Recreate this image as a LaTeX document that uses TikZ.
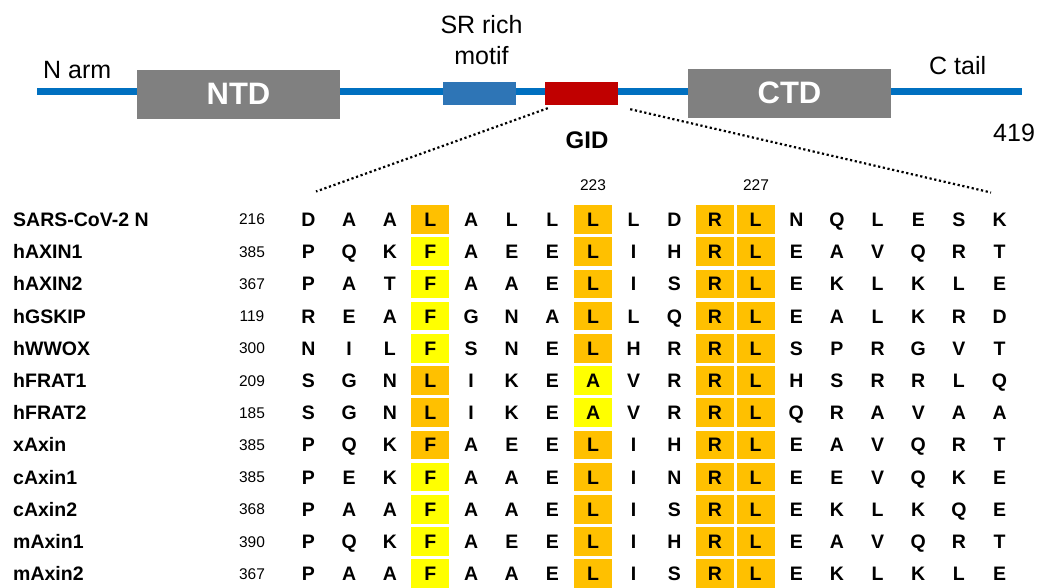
\documentclass[tikz,border=0pt]{standalone}
\usepackage{fontspec}
\setmainfont{Liberation Sans}
\definecolor{backbone}{HTML}{0070C0}
\definecolor{srblue}{HTML}{2E75B6}
\definecolor{gidred}{HTML}{C00000}
\definecolor{domgray}{HTML}{808080}
\definecolor{hlo}{HTML}{FFC000}
\definecolor{hly}{HTML}{FFFF00}
\tikzset{
  backboneline/.style={draw=backbone, line width=6.5pt},
  dombox/.style={fill=domgray, draw=none, minimum width=203pt, minimum height=48.5pt,
    inner sep=0pt, text=white, font=\bfseries\fontsize{31}{31}\selectfont},
  motifbox/.style={draw=none, minimum width=73pt, minimum height=23pt, inner sep=0pt},
  toplbl/.style={font=\fontsize{25}{25}\selectfont, inner sep=0pt},
  zoomline/.style={draw=black, line width=2.2pt, dash pattern=on 2.2pt off 2.6pt},
  namelbl/.style={font=\bfseries\fontsize{19.5}{20}\selectfont, anchor=west, inner sep=0pt,
    text height=14pt, text depth=0pt},
  numlbl/.style={font=\fontsize{15.5}{16}\selectfont, inner sep=0pt,
    text height=11pt, text depth=0pt},
  res/.style={font=\bfseries\fontsize{19.5}{20}\selectfont, minimum width=38pt,
    minimum height=28.5pt, inner sep=0pt, text height=14pt, text depth=0pt},
}
\begin{document}
\begin{tikzpicture}[x=1pt, y=-1pt]
\useasboundingbox (0,0) rectangle (1037,588);

% protein backbone with domains
\coordinate (armstart) at (37,91.5);
\coordinate (tailend) at (1022,91.5);
\draw[backboneline] (armstart) -- (tailend);
\node[dombox] (ntd) at (238.5,94.3) {NTD};
\node[dombox] (ctd) at (789.5,93.3) {CTD};
\node[motifbox, fill=srblue] (sr) at (479.5,93.5) {};
\node[motifbox, fill=gidred] (gid) at (581.5,93.5) {};

% region labels
\node[toplbl, anchor=base west] (narm) at (43,79) {N arm};
\node[toplbl, anchor=base] (srtxt1) at (481.5,33.3) {SR rich};
\node[toplbl, anchor=base] (srtxt2) at (481.5,65) {motif};
\node[toplbl, anchor=base west] (ctail) at (929,75) {C tail};
\node[toplbl, anchor=base west] (len) at (993,141.7) {419};
\node[font=\bfseries\fontsize{24}{24}\selectfont, anchor=base, inner sep=0pt] (gidtxt) at (587,149) {GID};

% zoom-in lines from the GID box to the alignment
\coordinate (zl) at (316,191.5);
\coordinate (zr) at (991,192.5);
\draw[zoomline] ([xshift=3pt,yshift=-3pt]gid.south west) -- (zl);
\draw[zoomline] ([xshift=12pt,yshift=-4pt]gid.south east) -- (zr);

% residue numbers above the alignment
\node[numlbl, anchor=base] (p223) at (593,190.7) {223};
\node[numlbl, anchor=base] (p227) at (756,190.7) {227};

% sequence alignment: name / start / residues / colour at col 4 / colour at col 8
\foreach \nm/\num/\seq/\ca/\cb [count=\r from 0] in {
  {SARS-CoV-2 N}/216/{D,A,A,L,A,L,L,L,L,D,R,L,N,Q,L,E,S,K}/hlo/hlo,
  hAXIN1/385/{P,Q,K,F,A,E,E,L,I,H,R,L,E,A,V,Q,R,T}/hly/hlo,
  hAXIN2/367/{P,A,T,F,A,A,E,L,I,S,R,L,E,K,L,K,L,E}/hly/hlo,
  hGSKIP/119/{R,E,A,F,G,N,A,L,L,Q,R,L,E,A,L,K,R,D}/hly/hlo,
  hWWOX/300/{N,I,L,F,S,N,E,L,H,R,R,L,S,P,R,G,V,T}/hly/hlo,
  hFRAT1/209/{S,G,N,L,I,K,E,A,V,R,R,L,H,S,R,R,L,Q}/hlo/hly,
  hFRAT2/185/{S,G,N,L,I,K,E,A,V,R,R,L,Q,R,A,V,A,A}/hlo/hly,
  xAxin/385/{P,Q,K,F,A,E,E,L,I,H,R,L,E,A,V,Q,R,T}/hlo/hlo,
  cAxin1/385/{P,E,K,F,A,A,E,L,I,N,R,L,E,E,V,Q,K,E}/hly/hlo,
  cAxin2/368/{P,A,A,F,A,A,E,L,I,S,R,L,E,K,L,K,Q,E}/hly/hlo,
  mAxin1/390/{P,Q,K,F,A,E,E,L,I,H,R,L,E,A,V,Q,R,T}/hly/hlo,
  mAxin2/367/{P,A,A,F,A,A,E,L,I,S,R,L,E,K,L,K,L,E}/hly/hlo}
{
  \pgfmathsetmacro{\yy}{219.5+32.2*\r}
  \node[namelbl] (name-\r) at (13,\yy) {\nm};
  \node[numlbl] (num-\r) at (252,\yy) {\num};
  \foreach \aa [count=\c from 0] in \seq {
    \def\fc{none}
    \ifnum\c=3 \let\fc\ca\fi
    \ifnum\c=7 \let\fc\cb\fi
    \ifnum\c=10 \def\fc{hlo}\fi
    \ifnum\c=11 \def\fc{hlo}\fi
    \node[res, fill=\fc] (res-\r-\c) at ({308.5+40.65*\c},\yy) {\aa};
  }
}
\end{tikzpicture}
\end{document}
